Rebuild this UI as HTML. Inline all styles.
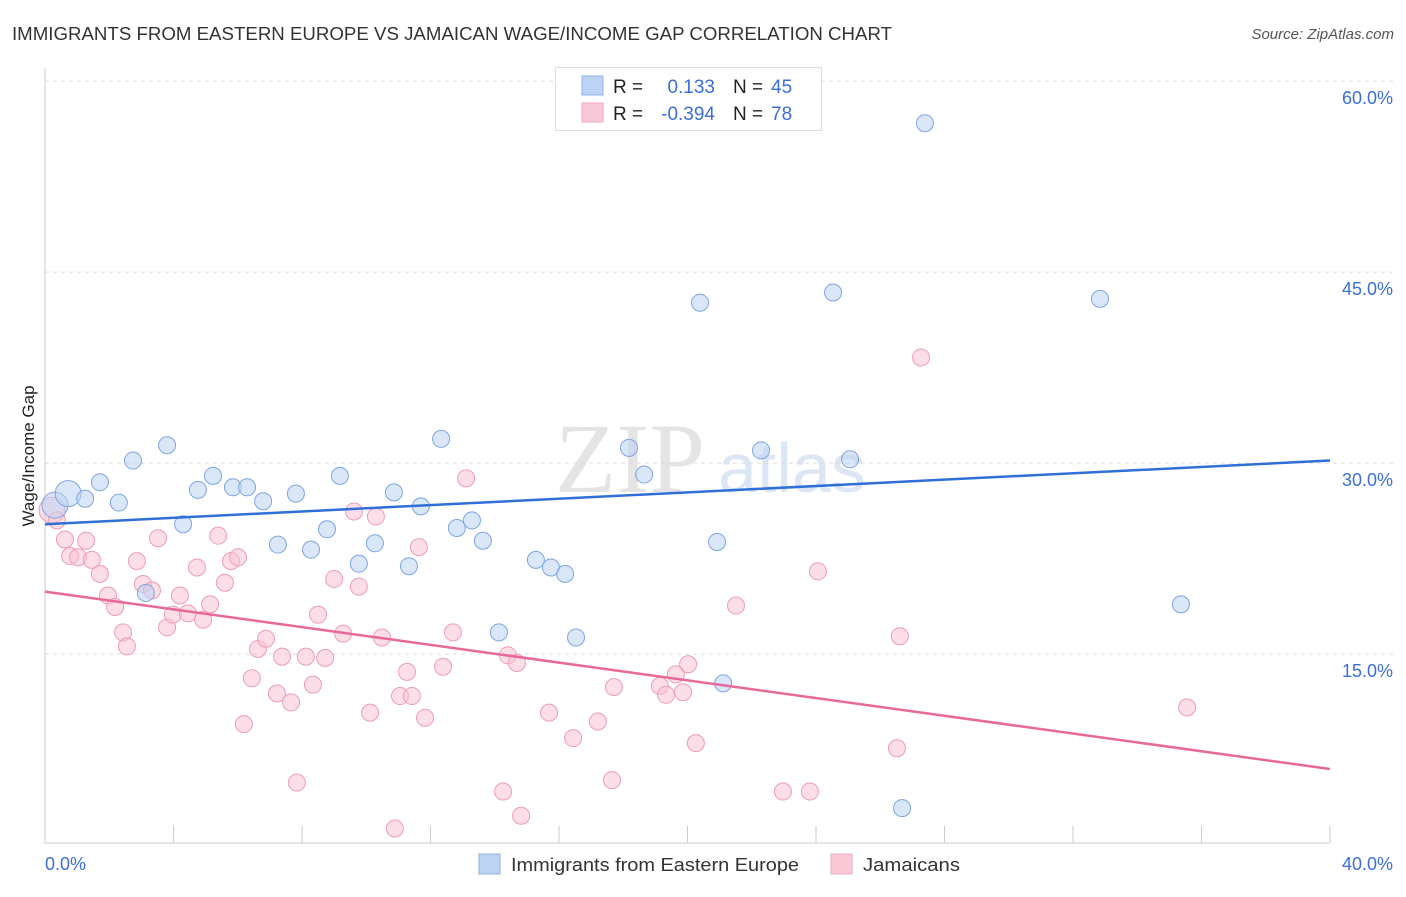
<!DOCTYPE html>
<html><head><meta charset="utf-8"><style>
body{margin:0;background:#fff;font-family:"Liberation Sans",sans-serif;}
svg text{font-family:"Liberation Sans",sans-serif;}
</style></head><body>
<svg id="chart" width="1406" height="892" xmlns="http://www.w3.org/2000/svg">
<text x="12" y="40" font-size="18" fill="#333" textLength="880" lengthAdjust="spacingAndGlyphs">IMMIGRANTS FROM EASTERN EUROPE VS JAMAICAN WAGE/INCOME GAP CORRELATION CHART</text>
<text x="1394" y="39" font-size="15" fill="#555" font-style="italic" text-anchor="end">Source: ZipAtlas.com</text>
<text x="555" y="492" font-size="100" fill="#e4e4e4" style="font-family:'Liberation Serif',serif">ZIP</text>
<text x="718" y="492" font-size="70" fill="#dce6f4">atlas</text>
<g id="grid"></g>
<g id="axes"></g>
<g id="marks"></g>
<text transform="translate(34,456) rotate(-90)" font-size="17" fill="#222" text-anchor="middle">Wage/Income Gap</text>
<text x="45" y="870" font-size="18" fill="#3b6fd4">0.0%</text>
<text x="1393" y="870" font-size="18" fill="#3b6fd4" text-anchor="end">40.0%</text>
<g>
<rect x="555.5" y="67.5" width="266" height="63" fill="#fff" stroke="#ddd"/>
<rect x="582" y="76" width="21" height="19" fill="#bcd3f4" stroke="#8fb0e6"/>
<rect x="582" y="103" width="21" height="19" fill="#f9c9d7" stroke="#eeaabf"/>
<text x="613" y="93" font-size="19" fill="#222">R =</text>
<text x="715" y="93" font-size="19" fill="#3b6fd4" text-anchor="end">0.133</text>
<text x="733" y="93" font-size="19" fill="#222">N =</text>
<text x="771" y="93" font-size="19" fill="#3b6fd4">45</text>
<text x="613" y="120" font-size="19" fill="#222">R =</text>
<text x="715" y="120" font-size="19" fill="#3b6fd4" text-anchor="end">-0.394</text>
<text x="733" y="120" font-size="19" fill="#222">N =</text>
<text x="771" y="120" font-size="19" fill="#3b6fd4">78</text>
</g>
<g>
<rect x="479" y="854" width="21" height="20" fill="#bcd3f4" stroke="#8fb0e6"/>
<text x="511" y="871" font-size="18" fill="#333" textLength="288" lengthAdjust="spacingAndGlyphs">Immigrants from Eastern Europe</text>
<rect x="831" y="854" width="21" height="20" fill="#f9c9d7" stroke="#eeaabf"/>
<text x="863" y="871" font-size="18" fill="#333" textLength="97" lengthAdjust="spacingAndGlyphs">Jamaicans</text>
</g>
</svg>
<script>
const yTicks=[15,30,45,60];
const xTicks=[0,4,8,12,16,20,24,28,32,36,40];
const blueX=[0.31,0.72,1.25,1.71,2.30,2.74,3.80,3.14,4.30,4.76,5.23,5.85,6.29,6.79,7.25,7.81,8.28,8.78,9.18,9.77,10.27,10.86,11.33,11.70,12.33,12.82,13.29,13.63,14.13,15.28,15.75,16.19,16.53,18.18,18.65,20.39,20.92,21.11,22.29,24.53,25.06,27.39,32.84,35.36,26.68];
const blueY=[26.7,27.6,27.2,28.5,26.9,30.2,31.4,19.8,25.2,27.9,29.0,28.1,28.1,27.0,23.6,27.6,23.2,24.8,29.0,22.1,23.7,27.7,21.9,26.6,31.9,24.9,25.5,23.9,16.7,22.4,21.8,21.3,16.3,31.2,29.1,42.6,23.8,12.7,31.0,43.4,30.3,56.7,42.9,18.9,2.9];
const pinkX=[0.22,0.37,0.62,0.78,1.03,1.28,1.46,1.71,1.96,2.18,2.43,2.55,2.86,3.05,3.33,3.52,3.80,3.98,4.20,4.45,4.73,4.92,5.14,5.39,5.60,5.79,6.01,6.19,6.44,6.63,6.88,7.22,7.38,7.66,7.84,8.12,8.34,8.50,8.72,9.00,9.28,9.62,9.77,10.12,10.30,10.49,10.89,11.05,11.27,11.42,11.64,11.83,12.39,12.70,13.11,14.26,14.41,14.69,14.82,15.69,16.44,17.21,17.65,17.71,19.14,19.33,19.64,19.86,20.02,20.26,21.51,22.97,23.81,24.06,26.52,26.61,27.27,35.55];
const pinkY=[26.3,25.5,24.0,22.7,22.6,23.9,22.4,21.3,19.6,18.7,16.7,15.6,22.3,20.5,20.0,24.1,17.1,18.1,19.6,18.2,21.8,17.7,18.9,24.3,20.6,22.3,22.6,9.5,13.1,15.4,16.2,11.9,14.8,11.2,4.9,14.8,12.6,18.1,14.7,20.9,16.6,26.2,20.3,10.4,25.8,16.3,1.3,11.7,13.6,11.7,23.4,10.0,14.0,16.7,28.8,4.2,14.9,14.3,2.3,10.4,8.4,9.7,5.1,12.4,12.5,11.8,13.4,12.0,14.2,8.0,18.8,4.2,4.2,21.5,7.6,16.4,38.3,10.8];
const blueTrend=[25.2,30.2];
const pinkTrend=[19.9,5.97];
const NS='http://www.w3.org/2000/svg';
const sx=v=>45+v*32.125;
const sy=v=>845-v*12.73;
function mk(tag,attrs,parent){const e=document.createElementNS(NS,tag);for(const k in attrs)e.setAttribute(k,attrs[k]);document.getElementById(parent).appendChild(e);return e;}
yTicks.forEach(t=>{
 const l=mk('line',{x1:45,x2:1393,y1:sy(t),y2:sy(t),stroke:'#ddd','stroke-dasharray':'4,4'},'grid');
 
 
 const tx=mk('text',{x:1393,y:sy(t)+23,'font-size':18,fill:'#3b6fd4','text-anchor':'end'},'grid');
 tx.textContent=t.toFixed(1)+'%';
 
 
});
const ya=mk('line',{x1:45,x2:45,y1:68,y2:843,stroke:'#ccc'},'axes');


const xa=mk('line',{x1:45,x2:1330,y1:843,y2:843,stroke:'#ccc'},'axes');


xTicks.forEach(t=>{
 const l=mk('line',{x1:sx(t),x2:sx(t),y1:826,y2:843,stroke:'#ccc'},'axes');
 
 
});
function dots(xs,ys,fill,stroke,name){
 xs.forEach((x,i)=>{
  const big=(name==='point-eastern-europe'&&i<2)||(name==='point-jamaicans'&&i<1);
  const c=mk('circle',{cx:sx(x),cy:sy(ys[i]),r:big?13:8.5,fill:fill,'fill-opacity':0.55,stroke:stroke,'stroke-width':1},'marks');
  
  
 });
}
dots(pinkX,pinkY,'#f9c3d3','#ec9cb6','point-jamaicans');
dots(blueX,blueY,'#bcd3f4','#7ea5e0','point-eastern-europe');
const bl=mk('line',{x1:sx(0),y1:sy(blueTrend[0]),x2:sx(40),y2:sy(blueTrend[1]),stroke:'#2f6fd6','stroke-width':2.5},'marks');


const pl=mk('line',{x1:sx(0),y1:sy(pinkTrend[0]),x2:sx(40),y2:sy(pinkTrend[1]),stroke:'#e8689a','stroke-width':2.5},'marks');


</script>
</body></html>
